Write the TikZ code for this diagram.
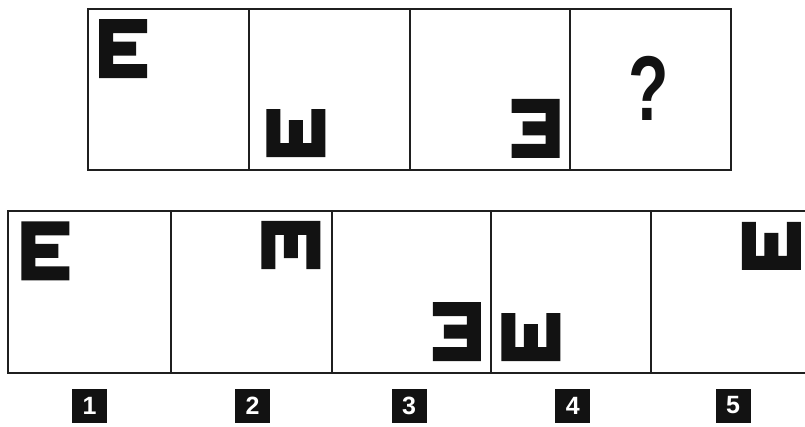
\documentclass[tikz,border=0pt]{standalone}
\usepackage{fontspec}
\setmainfont{Liberation Sans}
\begin{document}
\begin{tikzpicture}[x=1pt,y=1pt,
  frame/.style={line width=2pt, draw=black!88},
  glyph/.style={fill=black!93},
  tag/.style={fill=black!93, text=white, font=\fontsize{25}{25}\selectfont\bfseries, minimum width=35pt, minimum height=34pt, inner sep=0pt},
  snellen/.pic={\fill[glyph] (-24,29.5) -- (24,29.5) -- (24,15.5) -- (-10,15.5) -- (-10,7) -- (13,7) -- (13,-7) -- (-10,-7) -- (-10,-15.5) -- (24,-15.5) -- (24,-29.5) -- (-24,-29.5) -- cycle;}]
\useasboundingbox (0,0) rectangle (805,426);
\fill[white] (0,0) rectangle (805,426);
\clip (0,0) rectangle (805,426);
% top row
\draw[frame] (88,256) rectangle (731,416.5);
\draw[frame] (249,256) -- (249,416.5);
\draw[frame] (409.5,256) -- (409.5,416.5);
\draw[frame] (570,256) -- (570,416.5);
\pic at (123.2,377.3) {snellen};
\pic[rotate=90] at (295.8,292.8) {snellen};
\pic[rotate=180] at (535.5,297.5) {snellen};
\node[font=\fontsize{92}{92}\selectfont\bfseries, text=black!93, xscale=0.72, inner sep=0pt] (q) at (648.3,337.7) {?};
% bottom row
\draw[frame] (8.3,53.3) rectangle (812,214.5);
\draw[frame] (171,53.3) -- (171,214.5);
\draw[frame] (331.7,53.3) -- (331.7,214.5);
\draw[frame] (491,53.3) -- (491,214.5);
\draw[frame] (651,53.3) -- (651,214.5);
\pic at (45.3,175.2) {snellen};
\pic[rotate=-90] at (290.8,181) {snellen};
\pic[rotate=180] at (456.8,94.3) {snellen};
\pic[rotate=90] at (530.8,88.8) {snellen};
\pic[rotate=90] at (771.3,180.2) {snellen};
% labels
\node[tag] (l1) at (89.5,20.5) {1};
\node[tag] (l2) at (252.5,20.5) {2};
\node[tag] (l3) at (409,20.5) {3};
\node[tag] (l4) at (572.8,20.5) {4};
\node[tag] (l5) at (733,20.5) {5};
\end{tikzpicture}
\end{document}
